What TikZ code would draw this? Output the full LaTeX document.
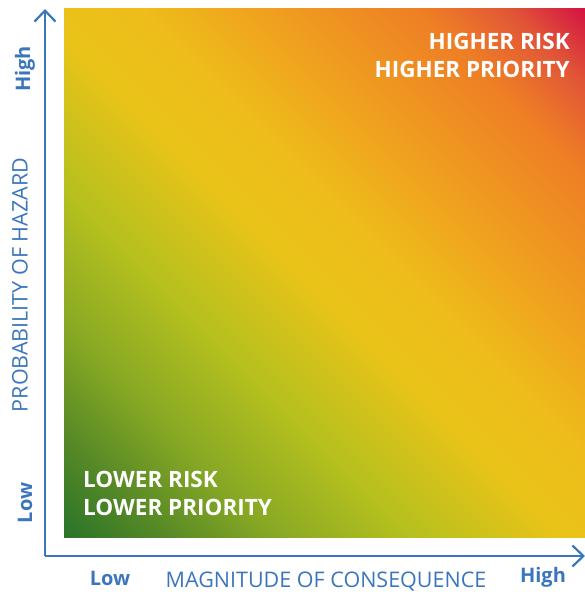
\documentclass[tikz,border=0pt]{standalone}
\usepackage{fontspec}
\setmainfont{Open Sans}
\usetikzlibrary{arrows.meta}

\definecolor{axisblue}{RGB}{59,118,189}
\definecolor{riskgreen}{RGB}{42,116,42}
\definecolor{riskmoss}{RGB}{88,138,38}
\definecolor{risklime}{RGB}{135,168,36}
\definecolor{riskchart}{RGB}{181,192,30}
\definecolor{riskyellow}{RGB}{234,195,24}
\definecolor{riskgold}{RGB}{238,188,27}
\definecolor{riskamber}{RGB}{240,166,30}
\definecolor{riskorange}{RGB}{238,125,37}
\definecolor{riskcoral}{RGB}{225,85,55}
\definecolor{riskcrimson}{RGB}{212,20,65}

\pgfdeclarehorizontalshading{riskshade}{100bp}{%
  color(0bp)=(riskgreen); color(14.6bp)=(riskgreen);
  color(21.7bp)=(riskmoss); color(28.8bp)=(risklime);
  color(38bp)=(riskchart); color(48.6bp)=(riskyellow);
  color(55.7bp)=(riskgold); color(62bp)=(riskamber);
  color(74.7bp)=(riskorange); color(80.4bp)=(riskcoral);
  color(85.4bp)=(riskcrimson); color(100bp)=(riskcrimson)}

\begin{document}
\begin{tikzpicture}[x=1pt,y=1pt]
  \useasboundingbox (0,0) rectangle (585,596);

  % risk field
  \shade[shading=riskshade,shading angle=45] (64,58) rectangle (585,587);

  % axes
  \coordinate (origin) at (45,40);
  \coordinate (ytip) at (45,587);
  \coordinate (xtip) at (585,40);
  \begin{scope}[line width=2.2pt,draw=axisblue]
  \draw[-{Straight Barb[length=11pt,width=21pt,line width=2.2pt]}] (origin) -- (ytip);
  \draw[-{Straight Barb[length=11pt,width=21pt,line width=2.2pt]}] (origin) -- (xtip);
  \end{scope}

  \begin{scope}[every node/.style={text=axisblue,font=\bfseries\fontsize{20}{24}\selectfont}]
  \node[rotate=90] (yhigh) at (25,527) {High};
  \node[rotate=90] (ylow) at (25,93) {Low};
  \node (xlow) at (110,18) {Low};
  \node (xhigh) at (543,19) {High};
  \end{scope}

  \begin{scope}[every node/.style={text=axisblue,font=\fontsize{21.5}{24}\selectfont}]
  \node (xtitle) at (326,14) {MAGNITUDE OF CONSEQUENCE};
  \node[rotate=90] (ytitle) at (20,311) {PROBABILITY OF HAZARD};
  \end{scope}

  \begin{scope}[every node/.style={text=white,inner sep=0pt,font=\bfseries\fontsize{22.5}{28}\selectfont}]
  \node[anchor=east,align=right] (high) at (570,541) {HIGHER RISK\\HIGHER PRIORITY};
  \node[anchor=west,align=left] (low) at (83,102.5) {LOWER RISK\\LOWER PRIORITY};
  \end{scope}
\end{tikzpicture}
\end{document}
